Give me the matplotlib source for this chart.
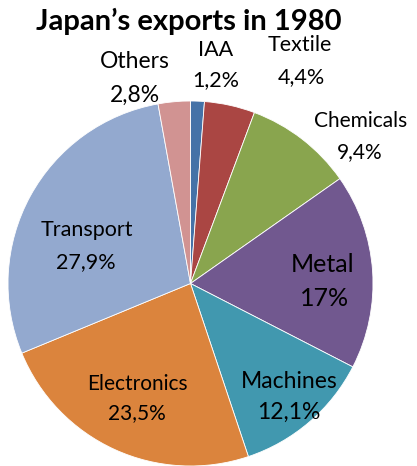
import matplotlib
matplotlib.use("Agg")
import matplotlib.pyplot as plt

# Export shares, clockwise from the top
categories = ["IAA", "Textile", "Chemicals", "Metal", "Machines",
              "Electronics", "Transport", "Others"]
shares = [1.2, 4.4, 9.4, 17, 12.1, 23.5, 27.9, 2.8]
share_labels = ["1,2%", "4,4%", "9,4%", "17%", "12,1%", "23,5%", "27,9%", "2,8%"]
colors = ["#4572A7", "#AA4643", "#89A54E", "#71588F", "#4198AF",
          "#DB843D", "#93A9CF", "#D19392"]

W, H = 417, 466
fig = plt.figure(figsize=(W / 100, H / 100), dpi=100)
ax = fig.add_axes([0, 0, 1, 1])

ax.pie(shares, colors=colors, startangle=90, counterclock=False,
       center=(190.5, H - 283.5), radius=182.5, normalize=True,
       wedgeprops=dict(edgecolor="white", linewidth=0.6))
ax.set_xlim(0, W)
ax.set_ylim(0, H)
ax.set_aspect("equal")
ax.axis("off")

font = "Lato"
ax.text(189, H - 21, "Japan\u2019s exports in 1980", ha="center", va="center",
        fontsize=21, fontweight="bold", family=font)

# label name / value positions (pixel centres) and sizes
label_pos = {
    "Others": ((135, 62), (135, 95), 16.5),
    "IAA": ((216, 50), (216, 80), 15.5),
    "Textile": ((300, 45), (301, 77), 15.5),
    "Chemicals": ((361, 121), (360, 152), 15),
    "Metal": ((323, 265), (325, 298), 18),
    "Machines": ((289, 382), (289, 412), 16.5),
    "Electronics": ((137, 384), (137, 413), 15),
    "Transport": ((87, 230), (86, 262), 15.5),
}
for name, val in zip(categories, share_labels):
    (nx, ny), (vx, vy), fs = label_pos[name]
    ax.text(nx, H - ny, name, ha="center", va="center", fontsize=fs, family=font)
    ax.text(vx, H - vy, val, ha="center", va="center", fontsize=fs, family=font)

fig.savefig("out.png", dpi=100)
